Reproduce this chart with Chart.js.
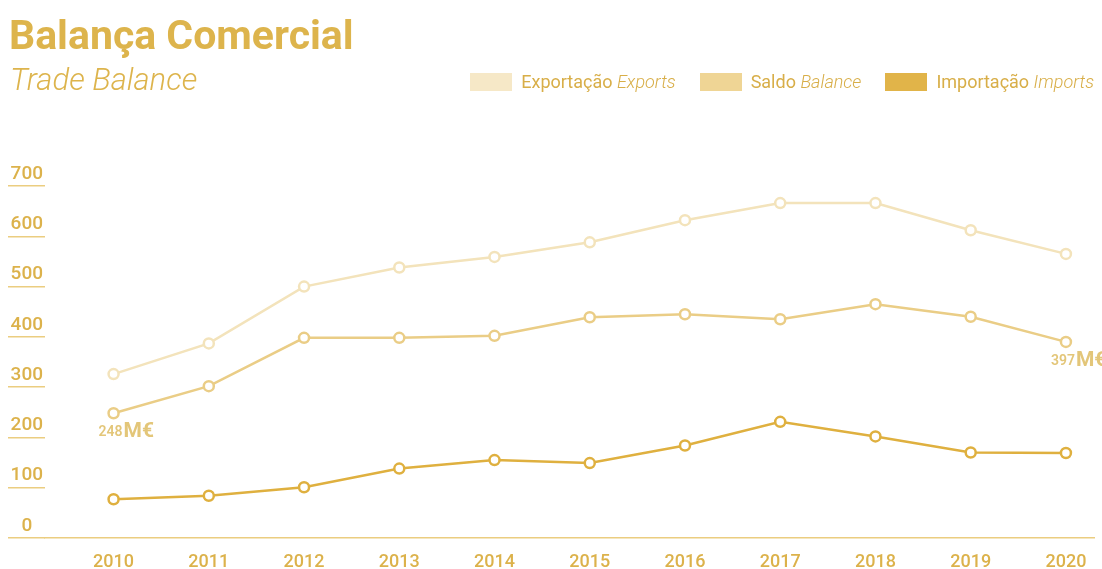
<!DOCTYPE html>
<html>
<head>
<meta charset="utf-8">
<script src="https://cdn.jsdelivr.net/npm/chart.js@4.4.1/dist/chart.umd.min.js"></script>
<style>
  body { margin: 0; background: #fff; font-family: Roboto, sans-serif; }
  #wrap { position: relative; width: 1102px; height: 569px; overflow: hidden; }
  #wrap canvas { display: block; }
  #title { position: absolute; left: 9px; top: 15px; font-weight: 700; font-size: 41px; color: #ddb44c; line-height: 1; }
  #subtitle { position: absolute; left: 10px; top: 64px; font-weight: 300; font-style: italic; font-size: 31px; color: #ddb44c; line-height: 1; }
  #legend { position: absolute; top: 71px; right: 8px; display: flex; align-items: center; }
  #legend .item { display: flex; align-items: center; margin-left: 24px; font-size: 18px; color: #d8ae48; }
  #legend .box { width: 42px; height: 18px; margin-right: 9px; }
  #legend i { font-weight: 300; }
</style>
</head>
<body>
<div id="wrap">
  <canvas id="myChart" width="1102" height="569"></canvas>
  <div id="title">Balança Comercial</div>
  <div id="subtitle">Trade Balance</div>
  <div id="legend"></div>
</div>
<script>
// dados (M€)
var years = [2010, 2011, 2012, 2013, 2014, 2015, 2016, 2017, 2018, 2019, 2020];
var exportsData = [326, 387, 500, 538, 559, 588, 632, 666, 666, 612, 565];
var balanceData = [248, 302, 398, 398, 402, 439, 445, 435, 465, 440, 390];
var importsData = [77, 84, 101, 138, 155, 149, 184, 231, 202, 170, 169];
var namesPt = ['Exportação', 'Saldo', 'Importação'];
var namesEn = ['Exports', 'Balance', 'Imports'];
var lineColors = ['#f3e3bb', '#eacd86', '#dfb03f'];
var boxColors = ['#f6e8c7', '#efd595', '#e1b449'];
var yTicks = [0, 100, 200, 300, 400, 500, 600, 700];
// etiquetas do saldo: indice do ponto e texto
var balanceNotes = [{ index: 0, value: '248', unit: 'M€' }, { index: 10, value: '397', unit: 'M€' }];

var gold = '#dcb24b';

function series(values) {
  return values.map(function (v, i) { return { x: years[i], y: v }; });
}

function makeDataset(i, values) {
  return {
    label: namesPt[i] + ' ' + namesEn[i],
    data: series(values),
    borderColor: lineColors[i],
    backgroundColor: boxColors[i],
    borderWidth: 2.5,
    pointRadius: 5,
    pointBorderWidth: 2.5,
    pointBackgroundColor: '#fff',
    pointBorderColor: lineColors[i],
    tension: 0
  };
}

// desenha "248M€" e "397M€" junto aos pontos do saldo
var notesPlugin = {
  id: 'notes',
  afterDatasetsDraw: function (chart) {
    var meta = chart.getDatasetMeta(1);
    var ctx = chart.ctx;
    ctx.save();
    ctx.fillStyle = '#e3c679';
    ctx.textBaseline = 'alphabetic';
    balanceNotes.forEach(function (n) {
      var pt = meta.data[n.index];
      var x = pt.x - 15, y = pt.y + 23;
      ctx.font = '600 14px Roboto';
      ctx.fillText(n.value, x, y);
      var w = ctx.measureText(n.value).width;
      ctx.font = '700 21px Roboto';
      ctx.fillText(n.unit, x + w + 1, y + 1);
    });
    ctx.restore();
  }
};

var myChart = new Chart(document.getElementById('myChart'), {
  type: 'line',
  data: {
    datasets: [makeDataset(0, exportsData), makeDataset(1, balanceData), makeDataset(2, importsData)]
  },
  options: {
    responsive: false,
    devicePixelRatio: 1,
    animation: false,
    layout: { padding: { top: 186, left: 8, right: 7, bottom: 0 } },
    plugins: { legend: { display: false }, tooltip: { enabled: false } },
    scales: {
      x: {
        type: 'linear',
        min: 2009.28,
        max: 2020.3,
        grid: { display: false, drawTicks: false },
        border: { display: true, color: '#ebcd80', width: 1.5 },
        afterFit: function (axis) { axis.height = 31; },
        ticks: {
          stepSize: 1,
          includeBounds: false,
          padding: 14,
          color: gold,
          font: { family: 'Roboto', size: 18, weight: '500' },
          callback: function (v) { return years.indexOf(v) >= 0 ? String(v) : ''; }
        }
      },
      y: {
        min: 0,
        max: 700,
        afterBuildTicks: function (axis) { axis.ticks = yTicks.map(function (v) { return { value: v }; }); },
        afterFit: function (axis) { axis.width = 37; },
        grid: { drawOnChartArea: false, drawTicks: true, tickLength: 37, color: '#ebcd80', lineWidth: 1.5 },
        border: { display: false },
        ticks: {
          padding: -35,
          crossAlign: 'center',
          labelOffset: -12,
          color: gold,
          font: { family: 'Roboto', size: 19, weight: '500' }
        }
      }
    }
  },
  plugins: [notesPlugin]
});

// legenda em HTML (texto PT normal + EN italico)
var legend = document.getElementById('legend');
myChart.data.datasets.forEach(function (ds, i) {
  var item = document.createElement('div');
  item.className = 'item';
  item.innerHTML = '<span class="box" style="background:' + boxColors[i] + '"></span>' +
    namesPt[i] + '&nbsp;<i>' + namesEn[i] + '</i>';
  legend.appendChild(item);
});
</script>
</body>
</html>
